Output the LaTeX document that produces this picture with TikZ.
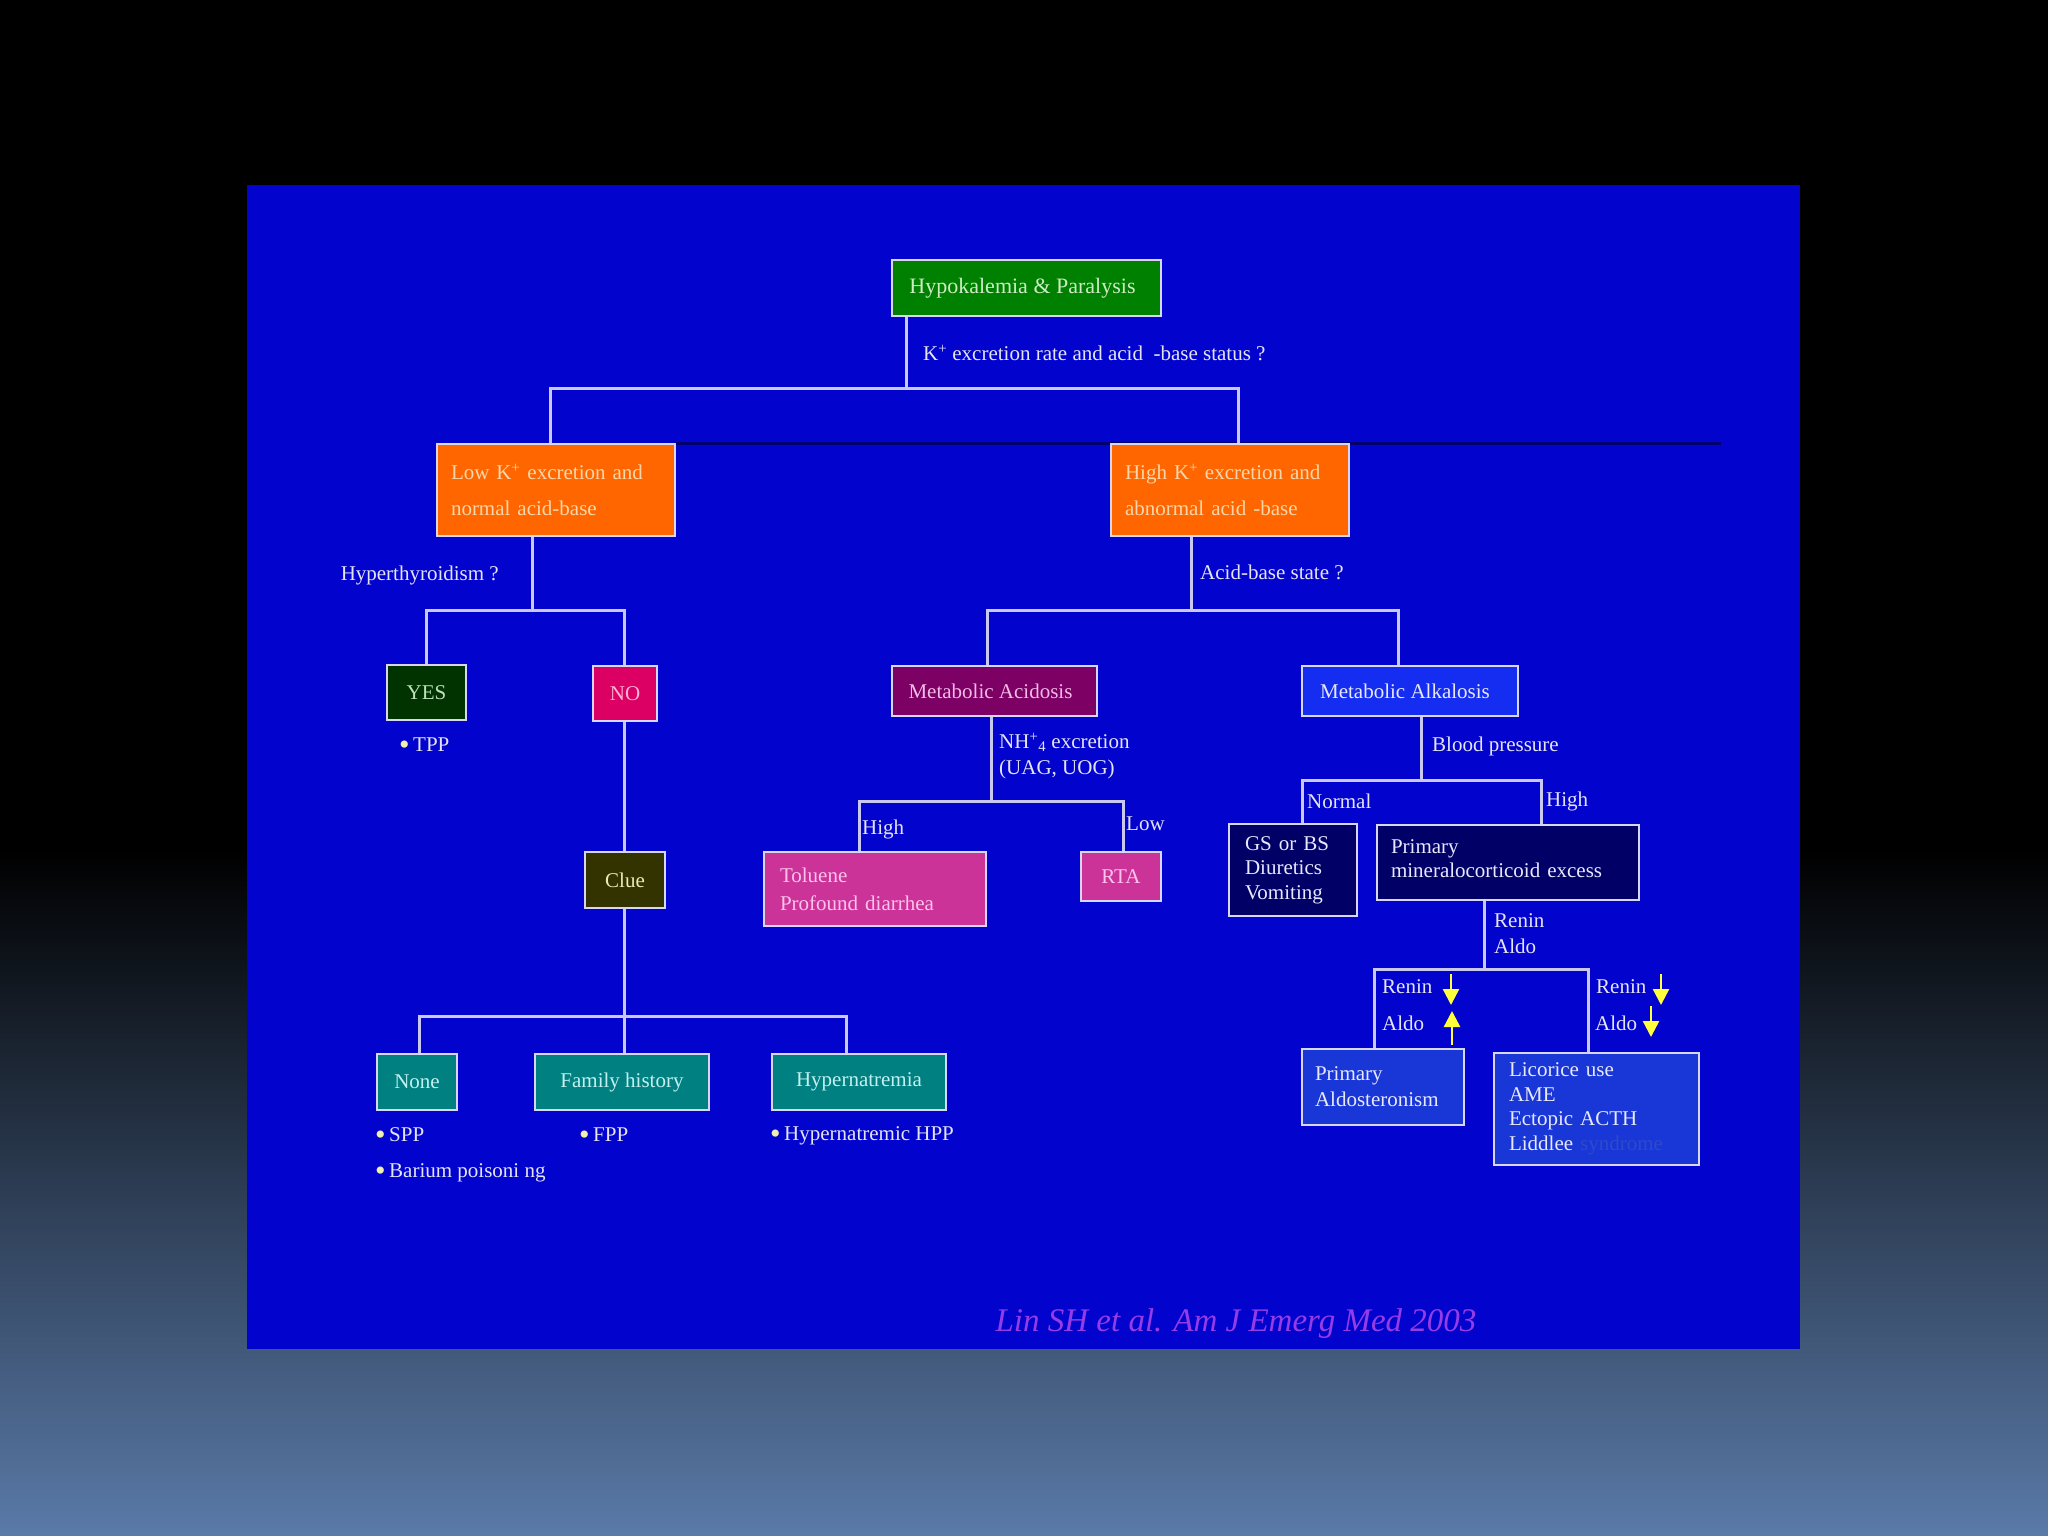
\documentclass[tikz,border=0pt]{standalone}
\usepackage{fontspec}
\setmainfont{Liberation Serif}
\usetikzlibrary{arrows.meta}
\definecolor{slide}{RGB}{3,3,206}
\definecolor{bgbot}{RGB}{90,122,168}
\definecolor{darkln}{RGB}{0,0,110}
\definecolor{boxline}{RGB}{215,215,245}
\definecolor{linec}{RGB}{200,200,240}
\definecolor{labc}{RGB}{228,228,245}
\definecolor{bulc}{RGB}{240,240,180}
\definecolor{cgreen}{RGB}{0,128,0}
\definecolor{tgreen}{RGB}{205,235,195}
\definecolor{corange}{RGB}{255,102,0}
\definecolor{torange}{RGB}{250,215,170}
\definecolor{cyes}{RGB}{0,51,0}
\definecolor{tyes}{RGB}{190,225,185}
\definecolor{cno}{RGB}{220,0,100}
\definecolor{tno}{RGB}{255,180,210}
\definecolor{cclue}{RGB}{51,51,0}
\definecolor{tclue}{RGB}{235,235,185}
\definecolor{cteal}{RGB}{0,128,128}
\definecolor{tteal}{RGB}{195,240,240}
\definecolor{cmacid}{RGB}{125,0,100}
\definecolor{tmacid}{RGB}{245,185,230}
\definecolor{cpink}{RGB}{204,51,153}
\definecolor{tpink}{RGB}{255,195,235}
\definecolor{cmalk}{RGB}{20,45,240}
\definecolor{cnavy}{RGB}{0,0,102}
\definecolor{cpa}{RGB}{25,55,215}
\definecolor{twhite}{RGB}{232,232,255}
\definecolor{faint}{RGB}{45,75,200}
\definecolor{cite}{RGB}{150,60,230}
\definecolor{yarrc}{RGB}{255,255,60}
\newcommand{\mybul}{{\color{bulc}\fontsize{30}{26}\selectfont\raisebox{-3pt}{\textbullet}}\,}
\begin{document}
\begin{tikzpicture}[x=1pt,y=-1pt,
  bx/.style={draw=boxline, line width=2.5pt, inner sep=0pt, font=\fontsize{21}{25}\selectfont},
  lbl/.style={anchor=west, inner sep=0pt, text=labc, font=\fontsize{21}{26}\selectfont, align=left},
  conn/.style={draw=linec, line width=3pt},
  yarr/.style={draw=yarrc, line width=2.5pt, -{Triangle[length=16pt,width=16pt]}}]
\useasboundingbox (0,0) rectangle (2048,1536);
\fill[black] (0,0) rectangle (2048,1536);
\shade[top color=black, bottom color=bgbot] (0,850) rectangle (2048,1536);
\fill[slide] (247,185) rectangle (1800,1349);
\draw[darkln, line width=3pt] (675,443) -- (1721,443);

% boxes
\node[bx, fill=cgreen, text=tgreen, minimum width=269, minimum height=56, font=\fontsize{22}{26}\selectfont] (title) at (1026.5,288) {Hypokalemia \& Paralysis\hspace*{8pt}};
\node[bx, fill=corange, text=torange, minimum width=238, minimum height=92, inner xsep=14pt, text width=210pt, align=left, font=\fontsize{21}{36}\selectfont] (lowk) at (556,490) {Low K\textsuperscript{+} excretion and\\normal acid-base};
\node[bx, fill=corange, text=torange, minimum width=238, minimum height=92, inner xsep=14pt, text width=210pt, align=left, font=\fontsize{21}{36}\selectfont] (highk) at (1230,490) {High K\textsuperscript{+} excretion and\\abnormal acid -base};
\node[bx, fill=cyes, text=tyes, minimum width=79, minimum height=55] (yes) at (426.5,692.5) {YES};
\node[bx, fill=cno, text=tno, minimum width=64, minimum height=55] (no) at (625,693.5) {NO};
\node[bx, fill=cclue, text=tclue, minimum width=80, minimum height=56] (clue) at (625,880) {Clue};
\node[bx, fill=cteal, text=tteal, minimum width=80, minimum height=56] (none) at (417,1082) {None};
\node[bx, fill=cteal, text=tteal, minimum width=174, minimum height=56] (family) at (622,1082) {Family history};
\node[bx, fill=cteal, text=tteal, minimum width=174, minimum height=56] (hyper) at (859,1082) {Hypernatremia};
\node[bx, fill=cmacid, text=tmacid, minimum width=205, minimum height=50] (macid) at (994.5,691) {Metabolic Acidosis\hspace*{8pt}};
\node[bx, fill=cmalk, text=twhite, minimum width=216, minimum height=50] (malk) at (1410,691) {Metabolic Alkalosis\hspace*{10pt}};
\node[bx, fill=cpink, text=tpink, minimum width=222, minimum height=74, inner xsep=16pt, text width=190pt, align=left, font=\fontsize{21}{28}\selectfont] (tol) at (875,889) {Toluene\\Profound diarrhea};
\node[bx, fill=cpink, text=tpink, minimum width=80, minimum height=49] (rta) at (1121,876.5) {RTA};
\node[bx, fill=cnavy, text=twhite, minimum width=128, minimum height=92, inner xsep=16pt, text width=96pt, align=left, font=\fontsize{21}{24.5}\selectfont] (gs) at (1293,870) {GS or BS\\Diuretics\\Vomiting};
\node[bx, fill=cnavy, text=twhite, minimum width=262, minimum height=75, inner xsep=14pt, text width=234pt, align=left, font=\fontsize{21}{24}\selectfont] (pme) at (1508,862.5) {Primary\\mineralocorticoid excess\\[-16pt]\mbox{}};
\node[bx, fill=cpa, text=twhite, minimum width=162, minimum height=76, inner xsep=13pt, text width=136pt, align=left, font=\fontsize{21}{26}\selectfont] (pa) at (1383,1087) {Primary\\Aldosteronism};
\node[bx, fill=cpa, text=twhite, minimum width=205, minimum height=112, inner xsep=15pt, text width=175pt, align=left, font=\fontsize{21}{24.5}\selectfont] (lic) at (1596.5,1109) {Licorice use\\AME\\Ectopic ACTH\\Liddlee {\color{faint}syndrome}};

% connectors
\coordinate (t0) at (906,388); \coordinate (tL) at (550,388); \coordinate (tR) at (1238,388);
\draw[conn] (title.south -| t0) -- (t0);
\draw[conn] (lowk.north -| tL) -- (tL) -- (tR) -- (highk.north -| tR);
\coordinate (a0) at (532,610); \coordinate (aL) at (426,610); \coordinate (aR) at (624,610);
\draw[conn] (lowk.south -| a0) -- (a0);
\draw[conn] (yes.north -| aL) -- (aL) -- (aR) -- (no.north -| aR);
\draw[conn] (no.south -| aR) -- (clue.north -| aR);
\coordinate (c0) at (624,1016); \coordinate (cL) at (419,1016); \coordinate (cR) at (846,1016);
\draw[conn] (clue.south -| c0) -- (family.north -| c0);
\draw[conn] (none.north -| cL) -- (cL) -- (cR) -- (hyper.north -| cR);
\coordinate (d0) at (1191,610); \coordinate (dL) at (987,610); \coordinate (dR) at (1398,610);
\draw[conn] (highk.south -| d0) -- (d0);
\draw[conn] (macid.north -| dL) -- (dL) -- (dR) -- (malk.north -| dR);
\coordinate (e0) at (991,801); \coordinate (eL) at (859,801); \coordinate (eR) at (1123,801);
\draw[conn] (macid.south -| e0) -- (e0);
\draw[conn] (tol.north -| eL) -- (eL) -- (eR) -- (rta.north -| eR);
\coordinate (f0) at (1421,780); \coordinate (fL) at (1302,780); \coordinate (fR) at (1541,780);
\draw[conn] (malk.south -| f0) -- (f0);
\draw[conn] (gs.north -| fL) -- (fL) -- (fR) -- (pme.north -| fR);
\coordinate (g0) at (1484,969); \coordinate (gL) at (1374,969); \coordinate (gR) at (1588,969);
\draw[conn] (pme.south -| g0) -- (g0);
\draw[conn] (pa.north -| gL) -- (gL) -- (gR) -- (lic.north -| gR);

% labels
\node[lbl] (q1) at (923,353) {K\textsuperscript{+} excretion rate and acid \ -base status ?};
\node[lbl, anchor=east] (q2) at (499,575) {Hyperthyroidism ?};
\node[lbl] (q3) at (1200,572) {Acid-base state ?};
\node[lbl] (ltpp) at (399,746) {\mybul TPP};
\node[lbl] (lspp) at (375,1136) {\mybul SPP};
\node[lbl] (lba) at (375,1173) {\mybul Barium poisoni ng};
\node[lbl] (lfpp) at (579,1136) {\mybul FPP};
\node[lbl] (lhpp) at (770,1136) {\mybul Hypernatremic HPP};
\node[lbl] (lnh) at (999,756) {NH\textsuperscript{+}\textsubscript{4} excretion\\(UAG, UOG)};
\node[lbl] (lhigh1) at (862,829) {High};
\node[lbl] (llow1) at (1126,824) {Low};
\node[lbl] (lbp) at (1432,746) {Blood pressure};
\node[lbl] (lnorm) at (1307,801) {Normal};
\node[lbl] (lhigh2) at (1546,801) {High};
\node[lbl] (lra) at (1494,934) {Renin\\Aldo};
\node[lbl] (lr1) at (1382,987) {Renin};
\node[lbl] (la1) at (1382,1023) {Aldo};
\node[lbl] (lr2) at (1596,987) {Renin};
\node[lbl] (la2) at (1595,1023) {Aldo};
\draw[yarr] (1451,974) -- (1451,1005);
\draw[yarr] (1452,1045) -- (1452,1011);
\draw[yarr] (1661,974) -- (1661,1005);
\draw[yarr] (1651,1006) -- (1651,1037);
\node[text=cite, inner sep=0pt, font=\fontsize{33}{38}\selectfont\itshape] (cit) at (1236,1324) {Lin SH et al. Am J Emerg Med 2003};
\end{tikzpicture}
\end{document}
